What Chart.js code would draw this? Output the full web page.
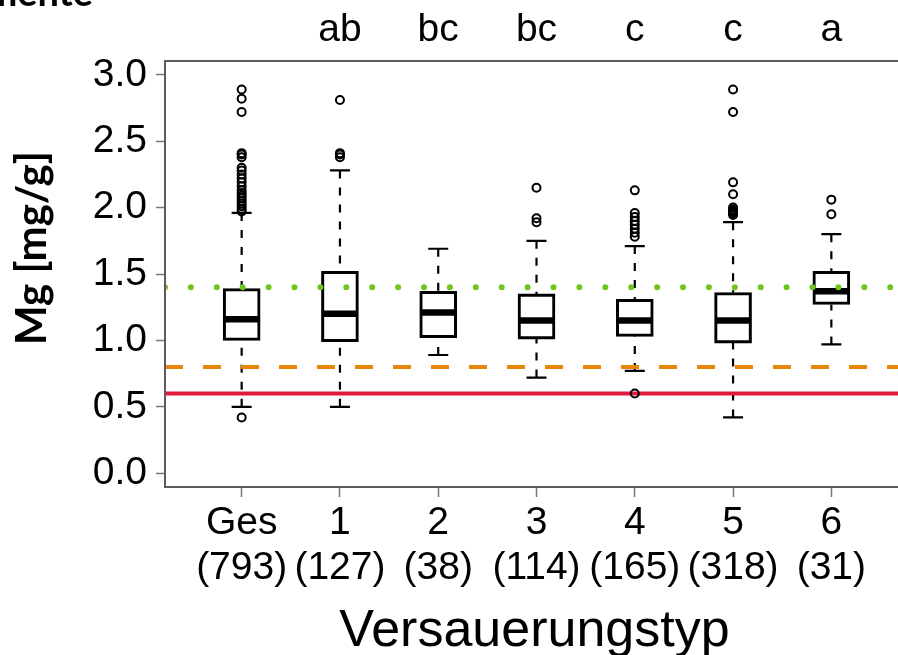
<!DOCTYPE html>
<html>
<head>
<meta charset="utf-8">
<script src="https://cdn.jsdelivr.net/npm/chart.js@4/dist/chart.umd.min.js"></script>
<style>
  html, body { margin: 0; padding: 0; background: #fff; overflow: hidden; }
  #wrap { width: 898px; height: 655px; overflow: hidden; position: relative; }
  canvas { display: block; }
</style>
</head>
<body>
<div id="wrap"><canvas id="c" width="930" height="655"></canvas></div>
<script>
// ---- data ----
const categories = ['Ges', '1', '2', '3', '4', '5', '6'];
const counts = [793, 127, 38, 114, 165, 318, 31];
const groupLetters = ['', 'ab', 'bc', 'bc', 'c', 'c', 'a'];

const whiskerLow  = [0.50, 0.50, 0.89, 0.72, 0.77, 0.42, 0.97];
const q1          = [1.00, 0.99, 1.02, 1.01, 1.03, 0.98, 1.27];
const medians     = [1.16, 1.20, 1.21, 1.15, 1.15, 1.15, 1.37];
const q3          = [1.39, 1.52, 1.37, 1.35, 1.31, 1.36, 1.52];
const whiskerHigh = [1.96, 2.28, 1.69, 1.75, 1.71, 1.89, 1.80];

const outliersGes = [0.42, 1.97, 1.99, 2.01, 2.03, 2.05, 2.07, 2.09, 2.11, 2.13, 2.16, 2.19, 2.22, 2.25, 2.28, 2.30, 2.38, 2.40, 2.41, 2.72, 2.82, 2.89];
const outliers1 = [2.38, 2.40, 2.41, 2.81];
const outliers2 = [];
const outliers3 = [1.89, 1.92, 2.15];
const outliers4 = [0.60, 1.78, 1.81, 1.84, 1.87, 1.90, 1.93, 1.96, 2.13];
const outliers5 = [1.945, 1.955, 1.965, 1.975, 1.985, 2.00, 2.10, 2.19, 2.72, 2.89];
const outliers6 = [1.95, 2.06];
const outlierGroups = [outliersGes, outliers1, outliers2, outliers3, outliers4, outliers5, outliers6];

const yTicks = [0.0, 0.5, 1.0, 1.5, 2.0, 2.5, 3.0];
const refGreen = 1.4;   // dotted green
const refOrange = 0.8;  // dashed orange
const refRed = 0.6;     // solid red

const xMin = 0.22, xMax = 7.78;
const yMin = -0.104, yMax = 3.104;

// ---- datasets built from the arrays ----
const boxData = categories.map((c, i) => ({ x: i + 1, y: [q1[i], q3[i]] }));
const outlierData = [];
outlierGroups.forEach((arr, i) => arr.forEach(v => outlierData.push({ x: i + 1, y: v })));
const hLine = v => [{ x: xMin, y: v }, { x: xMax, y: v }];

const FONT = '"Liberation Sans", Arial, sans-serif';

const boxExtras = {
  id: 'boxExtras',
  beforeDatasetsDraw(chart) {
    const ctx = chart.ctx, xs = chart.scales.x, ys = chart.scales.y;
    ctx.save();
    ctx.strokeStyle = '#000';
    categories.forEach((c, i) => {
      const px = xs.getPixelForValue(i + 1);
      ctx.lineWidth = 2.2;
      ctx.setLineDash([8, 9]);
      ctx.beginPath();
      ctx.moveTo(px, ys.getPixelForValue(whiskerHigh[i]));
      ctx.lineTo(px, ys.getPixelForValue(q3[i]));
      ctx.moveTo(px, ys.getPixelForValue(whiskerLow[i]));
      ctx.lineTo(px, ys.getPixelForValue(q1[i]));
      ctx.stroke();
      ctx.setLineDash([]);
      ctx.beginPath();
      ctx.moveTo(px - 10, ys.getPixelForValue(whiskerHigh[i]));
      ctx.lineTo(px + 10, ys.getPixelForValue(whiskerHigh[i]));
      ctx.moveTo(px - 10, ys.getPixelForValue(whiskerLow[i]));
      ctx.lineTo(px + 10, ys.getPixelForValue(whiskerLow[i]));
      ctx.stroke();
      ctx.lineWidth = 6.5;
      ctx.beginPath();
      ctx.moveTo(px - 18, ys.getPixelForValue(medians[i]));
      ctx.lineTo(px + 18, ys.getPixelForValue(medians[i]));
      ctx.stroke();
    });
    ctx.restore();
  },
  afterDraw(chart) {
    const ctx = chart.ctx, xs = chart.scales.x, ca = chart.chartArea;
    ctx.save();
    ctx.strokeStyle = '#5c5c5c';
    ctx.lineWidth = 2;
    ctx.strokeRect(ca.left, ca.top, ca.right - ca.left, ca.bottom - ca.top);
    ctx.fillStyle = '#000';
    ctx.font = '39px ' + FONT;
    ctx.textAlign = 'center';
    ctx.textBaseline = 'alphabetic';
    groupLetters.forEach((t, i) => {
      if (t) ctx.fillText(t, xs.getPixelForValue(i + 1), 41);
    });
    ctx.font = '52px ' + FONT;
    ctx.fillText('Versauerungstyp', (ca.left + ca.right) / 2 - 2, 646);
    ctx.save();
    ctx.translate(46, 248);
    ctx.rotate(-Math.PI / 2);
    ctx.font = 'bold 42px Lato, "Liberation Sans", sans-serif';
    ctx.fillText('Mg [mg/g]', 0, 0);
    ctx.restore();
    ctx.textAlign = 'right';
    ctx.font = 'bold 38px Lato, "Liberation Sans", sans-serif';
    ctx.fillText('Nährelemente', 93, 6);
    ctx.restore();
  }
};

new Chart(document.getElementById('c'), {
  type: 'bar',
  data: {
    datasets: [
      {
        type: 'scatter', data: outlierData, order: 0,
        pointStyle: 'circle', pointRadius: 4, pointBorderWidth: 2,
        borderColor: '#000', backgroundColor: 'rgba(0,0,0,0)', pointHoverRadius: 4
      },
      {
        type: 'line', data: hLine(refRed), order: 1,
        borderColor: '#e2193c', borderWidth: 4, pointRadius: 0, fill: false
      },
      {
        type: 'line', data: hLine(refOrange), order: 1,
        borderColor: '#e8860c', borderWidth: 4, borderDash: [18, 20], pointRadius: 0, fill: false
      },
      {
        type: 'line', data: hLine(refGreen), order: 1,
        borderColor: '#72c41c', borderWidth: 6, borderDash: [0, 25.9], borderCapStyle: 'round',
        pointRadius: 0, fill: false
      },
      {
        type: 'bar', data: boxData, order: 2,
        backgroundColor: 'rgba(0,0,0,0)', borderColor: '#000', borderWidth: 2.4,
        borderSkipped: false, barThickness: 37
      }
    ]
  },
  options: {
    responsive: false,
    animation: false,
    devicePixelRatio: 1,
    layout: { padding: { top: 61, right: 22, left: 0, bottom: 0 } },
    plugins: { legend: { display: false }, tooltip: { enabled: false } },
    scales: {
      x: {
        type: 'linear', position: 'bottom', min: xMin, max: xMax, offset: false,
        afterBuildTicks: s => { s.ticks = categories.map((c, i) => ({ value: i + 1 })); },
        afterFit: s => { s.height = 168; },
        grid: { offset: false, drawOnChartArea: false, drawTicks: true, tickLength: 10, tickColor: '#777', tickWidth: 1.5 },
        border: { display: false },
        ticks: {
          color: '#000', padding: 3, maxRotation: 0, autoSkip: false,
          font: { family: FONT, size: 39, lineHeight: 1.17 },
          callback: v => {
            const i = Math.round(v) - 1;
            return [categories[i], '(' + counts[i] + ')'];
          }
        }
      },
      y: {
        type: 'linear', min: yMin, max: yMax,
        afterBuildTicks: s => { s.ticks = yTicks.map(v => ({ value: v })); },
        afterFit: s => { s.width = 165; },
        grid: { drawOnChartArea: false, drawTicks: true, tickLength: 9, tickColor: '#777', tickWidth: 1.5 },
        border: { display: false },
        ticks: {
          color: '#000', padding: 9,
          font: { family: FONT, size: 39 },
          callback: v => v.toFixed(1)
        }
      }
    }
  },
  plugins: [boxExtras]
});
</script>
</body>
</html>
